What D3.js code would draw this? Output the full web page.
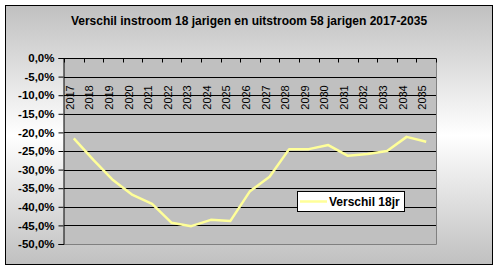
<!DOCTYPE html>
<html><head><meta charset="utf-8">
<script src="https://cdn.jsdelivr.net/npm/d3@7"></script>
<style>body{margin:0;background:#fff}svg{display:block}text{font-family:"Liberation Sans",Arial,sans-serif}</style>
</head><body><svg id="c" width="499" height="270"></svg>
<script>
const years = ["2017","2018","2019","2020","2021","2022","2023","2024","2025","2026","2027","2028","2029","2030","2031","2032","2033","2034","2035"];
const verschil = [-21.6,-27.4,-32.8,-36.8,-39.2,-44.3,-45.2,-43.5,-43.8,-35.8,-31.9,-24.5,-24.5,-23.4,-26.3,-25.8,-25.0,-21.2,-22.5];
const yTicks = [0,-5,-10,-15,-20,-25,-30,-35,-40,-45,-50];
const title = "Verschil instroom 18 jarigen en uitstroom 58 jarigen 2017-2035";
const seriesName = "Verschil 18jr";

const svg = d3.select("#c");
const defs = svg.append("defs");
const g = defs.append("linearGradient").attr("id","bg").attr("x1",0).attr("y1",0).attr("x2",0).attr("y2",1);
g.append("stop").attr("offset","0%").attr("stop-color","#c0c0c0");
g.append("stop").attr("offset","50%").attr("stop-color","#ffffff");
g.append("stop").attr("offset","100%").attr("stop-color","#c0c0c0");

svg.append("rect").attr("x",5.5).attr("y",5.5).attr("width",487).attr("height",259)
  .attr("fill","url(#bg)").attr("stroke","#000").attr("stroke-width",1);

svg.append("text").attr("x",249).attr("y",25).attr("text-anchor","middle")
  .attr("font-size","12px").attr("font-weight","bold").text(title);

const L=64, R=436, T=58, B=244;
const x = d3.scaleBand().domain(years).range([L,R]);
const y = d3.scaleLinear().domain([-50,0]).range([B,T]);

svg.append("rect").attr("x",L).attr("y",T).attr("width",R-L).attr("height",B-T).attr("fill","#c0c0c0");

// gridlines
svg.append("g").selectAll("line").data(yTicks.filter(d=>d>-50)).join("line")
  .attr("x1",L).attr("x2",R).attr("y1",d=>Math.round(y(d))+0.5).attr("y2",d=>Math.round(y(d))+0.5)
  .attr("stroke","#000");
// plot border right & bottom
svg.append("path").attr("d",`M${R+0.5},${T}V${B+0.5}H${L}`).attr("fill","none").attr("stroke","#808080");

// y axis
const ya = svg.append("g").attr("transform",`translate(${L-0.5},0)`)
  .call(d3.axisLeft(y).tickValues(yTicks).tickSize(5).tickPadding(4)
    .tickFormat(d=>d3.format(".1f")(d).replace(".",",").replace("−","-")+"%"));
ya.select(".domain").attr("stroke","#000");
ya.selectAll("line").attr("stroke","#000");
ya.selectAll("text").attr("font-size","11.5px").attr("font-weight","bold").attr("fill","#000")
  .attr("font-family","Liberation Sans, Arial, sans-serif");

// x axis at top (0%)
const xa = svg.append("g").attr("transform",`translate(0,${Math.round(y(0))+0.5})`)
  .call(d3.axisBottom(x).tickSize(0).tickFormat(""));
xa.select(".domain").remove();
const bounds = years.map((d,i)=>L+x.step()*i).concat([R]);
xa.selectAll(".tk").data(bounds).join("line").attr("class","tk")
  .attr("x1",d=>Math.round(d)+0.5).attr("x2",d=>Math.round(d)+0.5).attr("y1",0).attr("y2",4).attr("stroke","#000");
xa.selectAll(".yl").data(years).join("text").attr("class","yl")
  .attr("transform",d=>`translate(${x(d)+x.bandwidth()/2},39) rotate(-90)`)
  .attr("font-size","11px").attr("fill","#000").text(d=>d);

// line
const line = d3.line().x((d,i)=>x(years[i])+x.bandwidth()/2).y(d=>y(d));
svg.append("path").datum(verschil).attr("d",line).attr("fill","none")
  .attr("stroke","#ffff99").attr("stroke-width",2.5).attr("stroke-linejoin","round");

// legend
const lg = svg.append("g");
lg.append("rect").attr("x",297.5).attr("y",191.5).attr("width",107).attr("height",20).attr("fill","#fff").attr("stroke","#000");
lg.append("line").attr("x1",300).attr("x2",327).attr("y1",201.5).attr("y2",201.5).attr("stroke","#ffff99").attr("stroke-width",2.5);
lg.append("text").attr("x",329).attr("y",206).attr("font-size","12px").attr("font-weight","bold").text(seriesName);
</script></body></html>
